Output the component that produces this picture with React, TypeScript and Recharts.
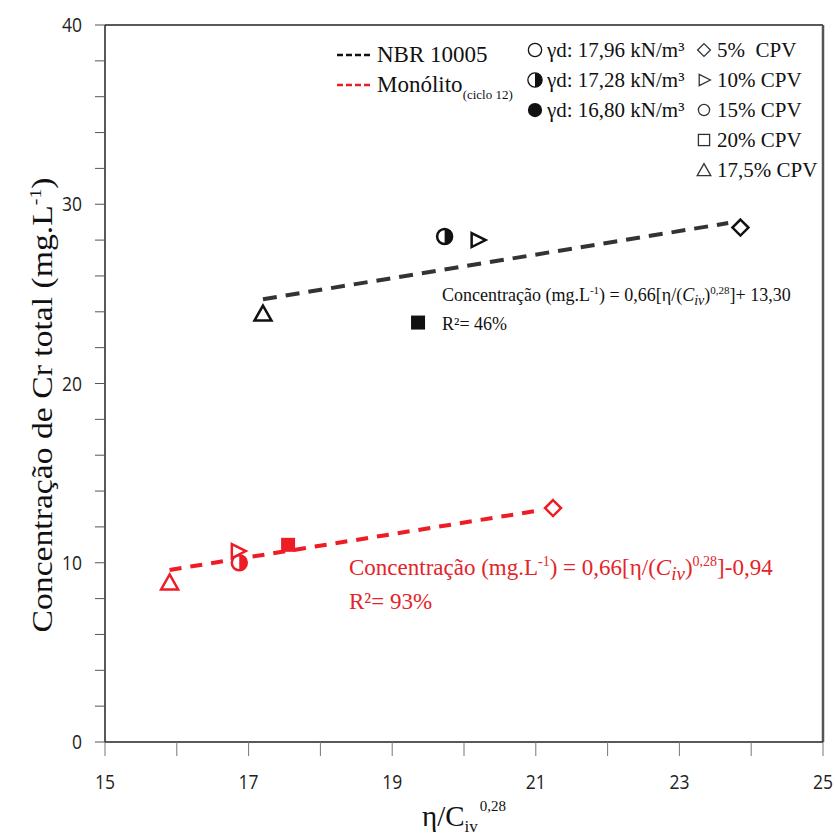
import React from "react";
import { ComposedChart, Scatter, Line, XAxis, YAxis, ReferenceLine } from "recharts";

// axis ticks
const xTicks = [15, 16, 17, 18, 19, 20, 21, 22, 23, 24, 25];
const xTickLabels = [15, 17, 19, 21, 23, 25];
const yTicks = [0, 2, 4, 6, 8, 10, 12, 14, 16, 18, 20, 22, 24, 26, 28, 30, 32, 34, 36, 38, 40];
const yTickLabels = [0, 10, 20, 30, 40];

// points: triangle = 17,5% CPV, halfCircle = 15% CPV, rightTriangle = 10% CPV, square = 20% CPV, diamond = 5% CPV
const markerKinds = ["triangle", "halfCircle", "rightTriangle", "square", "diamond"];
const nbrX = [17.2, 19.73, 20.19, 19.36, 23.85];
const nbrY = [23.9, 28.2, 28.0, 23.4, 28.7];
const monoX = [15.9, 16.87, 16.85, 17.55, 21.24];
const monoY = [8.9, 10.0, 10.65, 11.0, 13.05];

// fitted lines
const nbrTrendX = [17.2, 23.68];
const nbrTrendY = [24.7, 28.95];
const monoTrendX = [15.9, 21.1];
const monoTrendY = [9.6, 12.95];

const densityKinds = ["circle", "halfCircle", "filledCircle"];
const densityLabels = ["γd: 17,96 kN/m³", "γd: 17,28 kN/m³", "γd: 16,80 kN/m³"];
const cpvKinds = ["diamond", "rightTriangle", "circle", "square", "triangle"];
const cpvLabels = ["5%\u00a0\u00a0CPV", "10% CPV", "15% CPV", "20% CPV", "17,5% CPV"];

const RED = "#ee1c24";
const RED_TEXT = "#e3242b";
const serifStyle = { fontFamily: "Liberation Serif, Times New Roman, serif" };
const sansStyle = { fontFamily: "Open Sans, DejaVu Sans, sans-serif" };

const zip = (xs: number[], ys: number[], kinds?: string[]) =>
  xs.map((x, i) => ({ x, y: ys[i], kind: kinds ? kinds[i] : "" }));

const nbrData = zip(nbrX, nbrY, markerKinds);
const monoData = zip(monoX, monoY, markerKinds);
const nbrTrend = zip(nbrTrendX, nbrTrendY);
const monoTrend = zip(monoTrendX, monoTrendY);

const Marker = ({ cx, cy, kind, color, s = 1, sw = 2.5 }: any) => {
  switch (kind) {
    case "triangle":
      return (
        <polygon
          points={`${cx},${cy - 8 * s} ${cx + 8.5 * s},${cy + 7 * s} ${cx - 8.5 * s},${cy + 7 * s}`}
          fill="#fff" stroke={color} strokeWidth={sw}
        />
      );
    case "rightTriangle":
      return (
        <polygon
          points={`${cx - 6 * s},${cy - 7 * s} ${cx + 8 * s},${cy} ${cx - 6 * s},${cy + 7 * s}`}
          fill="#fff" stroke={color} strokeWidth={sw}
        />
      );
    case "halfCircle": {
      const r = 7.5 * s;
      return (
        <g>
          <circle cx={cx} cy={cy} r={r} fill="#fff" stroke={color} strokeWidth={sw} />
          <path d={`M ${cx},${cy - r} A ${r} ${r} 0 0 1 ${cx},${cy + r} Z`} fill={color} />
        </g>
      );
    }
    case "circle":
      return <circle cx={cx} cy={cy} r={7 * s} fill="#fff" stroke={color} strokeWidth={sw} />;
    case "filledCircle":
      return <circle cx={cx} cy={cy} r={7.5 * s} fill={color} />;
    case "square":
      return <rect x={cx - 7 * s} y={cy - 7 * s} width={14 * s} height={14 * s} fill={color} />;
    case "emptySquare":
      return <rect x={cx - 7 * s} y={cy - 7 * s} width={14 * s} height={14 * s} fill="#fff" stroke={color} strokeWidth={sw} />;
    case "diamond":
      return (
        <polygon
          points={`${cx},${cy - 8 * s} ${cx + 8 * s},${cy} ${cx},${cy + 8 * s} ${cx - 8 * s},${cy}`}
          fill="#fff" stroke={color} strokeWidth={sw}
        />
      );
    default:
      return <g />;
  }
};

const XTick = ({ x, y, payload }: any) =>
  xTickLabels.includes(payload.value) ? (
    <text x={x} y={y} dy="0.71em" textAnchor="middle" style={sansStyle} fontSize={20} fill="#222"
      textLength={payload.value >= 10 ? 20 : 10} lengthAdjust="spacingAndGlyphs">
      {payload.value}
    </text>
  ) : (
    <g />
  );

const YTick = ({ x, y, payload }: any) =>
  yTickLabels.includes(payload.value) ? (
    <text x={x} y={y} dy="0.35em" textAnchor="end" style={sansStyle} fontSize={20} fill="#222"
      textLength={payload.value >= 10 ? 20 : 10} lengthAdjust="spacingAndGlyphs">
      {payload.value}
    </text>
  ) : (
    <g />
  );

const Overlay = () => (
  <svg width={835} height={837} style={{ position: "absolute", left: 0, top: 0, pointerEvents: "none" }}>
    {/* line legend */}
    <line x1={337} x2={371} y1={55} y2={55} stroke="#111" strokeWidth={2.5} strokeDasharray="6 3" />
    <text x={377} y={62} style={serifStyle} fontSize={23} fill="#111">NBR 10005</text>
    <line x1={337} x2={371} y1={85} y2={85} stroke={RED} strokeWidth={2.5} strokeDasharray="6 3" />
    <text x={377} y={92} style={serifStyle} fontSize={23} fill="#111">
      Monólito
      <tspan fontSize={13} dy={7}>(ciclo 12)</tspan>
    </text>

    {/* marker legend */}
    {densityLabels.map((t, i) => (
      <g key={t}>
        <Marker cx={535} cy={50 + i * 30} kind={densityKinds[i]} color="#111" s={0.95} sw={1.3} />
        <text x={547} y={57 + i * 30} style={serifStyle} fontSize={21} fill="#111">{t}</text>
      </g>
    ))}
    {cpvLabels.map((t, i) => (
      <g key={t}>
        <Marker cx={704} cy={50 + i * 30}
          kind={cpvKinds[i] === "square" ? "emptySquare" : cpvKinds[i]}
          color="#333" s={0.8} sw={1.3} />
        <text x={717} y={57 + i * 30} style={serifStyle} fontSize={21} fill="#111">{t}</text>
      </g>
    ))}

    {/* regression equations */}
    <text x={442} y={301} style={serifStyle} fontSize={18} fill="#111">
      Concentração (mg.L<tspan fontSize={11} dy={-7}>-1</tspan>
      <tspan dy={7}>) = 0,66[η/(</tspan>
      <tspan fontStyle="italic">C</tspan>
      <tspan fontStyle="italic" fontSize={14} dy={4}>iv</tspan>
      <tspan dy={-4}>)</tspan>
      <tspan fontSize={11} dy={-7}>0,28</tspan>
      <tspan dy={7}>]+ 13,30</tspan>
    </text>
    <text x={442} y={330} style={serifStyle} fontSize={18} fill="#111">
      R²= 46%
    </text>
    <text x={349} y={575} style={serifStyle} fontSize={23} fill={RED_TEXT}>
      Concentração (mg.L<tspan fontSize={14} dy={-9}>-1</tspan>
      <tspan dy={9}>) = 0,66[η/(</tspan>
      <tspan fontStyle="italic">C</tspan>
      <tspan fontStyle="italic" fontSize={19} dy={5}>iv</tspan>
      <tspan dy={-5}>)</tspan>
      <tspan fontSize={14} dy={-9}>0,28</tspan>
      <tspan dy={9}>]-0,94</tspan>
    </text>
    <text x={349} y={609} style={serifStyle} fontSize={23} fill={RED_TEXT}>
      R²= 93%
    </text>

    {/* axis titles */}
    <text transform="translate(52,405) rotate(-90)" textAnchor="middle" style={serifStyle} fontSize={29}
      fill="#111" textLength={455} lengthAdjust="spacingAndGlyphs">
      Concentração de Cr total (mg.L<tspan fontSize={17} dy={-11}>-1</tspan><tspan dy={11}>)</tspan>
    </text>
    <text x={422} y={826} style={serifStyle} fontSize={29} fill="#111">
      η/C<tspan fontSize={17} dy={6}>iv</tspan>
      <tspan fontSize={15} dy={-21} dx={2}>0,28</tspan>
    </text>
  </svg>
);

export default function App() {
  return (
    <div style={{ position: "absolute", left: 0, top: 0, width: 835, height: 837, background: "#fff" }}>
      <ComposedChart width={835} height={837} margin={{ top: 25, right: 12, left: 0, bottom: 0 }}>
        <XAxis
          type="number" dataKey="x" domain={[15, 25]} ticks={xTicks} interval={0}
          allowDataOverflow height={95} tickSize={14} tickMargin={19} tick={<XTick />}
          axisLine={{ stroke: "#222", strokeWidth: 1.5 }} tickLine={{ stroke: "#777" }}
        />
        <YAxis
          type="number" dataKey="y" domain={[0, 40]} ticks={yTicks} interval={0}
          allowDataOverflow width={105} tickSize={10} tickMargin={13} tick={<YTick />}
          axisLine={{ stroke: "#222", strokeWidth: 1.5 }} tickLine={{ stroke: "#555" }}
        />
        <ReferenceLine y={40} stroke="#222" strokeWidth={1.5} />
        <ReferenceLine x={25} stroke="#555" strokeWidth={2.5} />
        <Line data={nbrTrend} dataKey="y" type="linear" stroke="#333" strokeWidth={4}
          strokeDasharray="14 9" dot={false} activeDot={false} isAnimationActive={false} />
        <Line data={monoTrend} dataKey="y" type="linear" stroke={RED} strokeWidth={4}
          strokeDasharray="12 9" dot={false} activeDot={false} isAnimationActive={false} />
        <Scatter data={nbrData} isAnimationActive={false}
          shape={(p: any) => <Marker cx={p.cx} cy={p.cy} kind={p.payload.kind} color="#111" />} />
        <Scatter data={monoData} isAnimationActive={false}
          shape={(p: any) => <Marker cx={p.cx} cy={p.cy} kind={p.payload.kind} color={RED} />} />
      </ComposedChart>
      <Overlay />
    </div>
  );
}
